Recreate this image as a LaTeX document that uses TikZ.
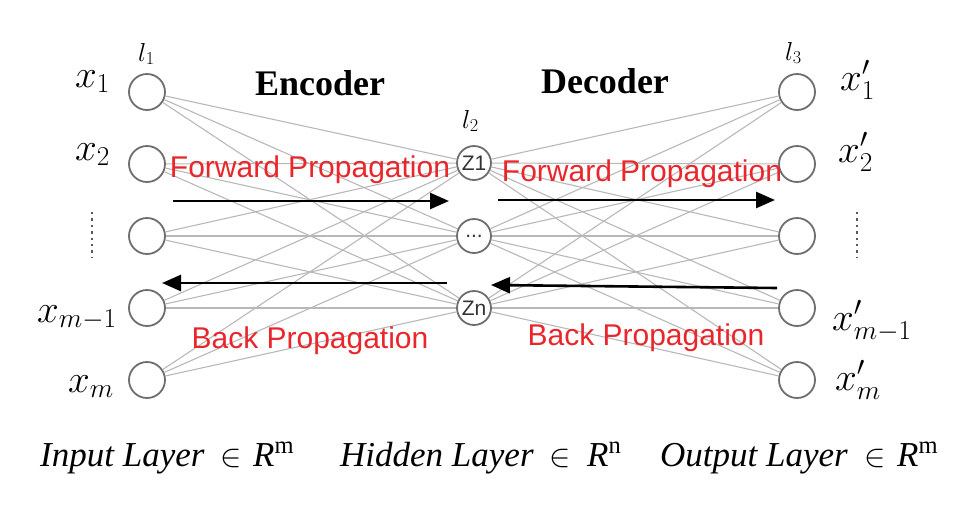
\documentclass[tikz,border=0pt]{standalone}
\usepackage{fix-cm}
\usepackage{fontspec}
\newfontfamily\serifTNR{Liberation Serif}
\newfontfamily\sansArial{Liberation Sans}
\usetikzlibrary{arrows.meta}
\definecolor{redtxt}{HTML}{E8262B}
\definecolor{nodegray}{HTML}{6E6E6E}
\definecolor{linkgray}{HTML}{B8B8B8}
\tikzset{
  neuron/.style={circle,draw=nodegray,line width=1.8pt,fill=white,minimum size=36pt,inner sep=0pt},
  hneuron/.style={neuron,minimum size=34pt,font=\sansArial\fontsize{21}{22}\selectfont,text=black!80},
  link/.style={draw=linkgray,line width=1.1pt},
  mathlbl/.style={anchor=base west,inner sep=0pt,font=\fontsize{39}{41}\selectfont},
  layerlbl/.style={anchor=base west,inner sep=0pt,font=\fontsize{26}{28}\selectfont},
  titlelbl/.style={anchor=base,inner sep=0pt,font=\serifTNR\bfseries\fontsize{36}{38}\selectfont},
  redlbl/.style={anchor=base,inner sep=0pt,text=redtxt,font=\sansArial\fontsize{30}{32}\selectfont},
  proparrow/.style={line width=2.6pt,-{Triangle[length=19pt,width=16pt]}},
  botlbl/.style={anchor=base west,inner sep=0pt,font=\serifTNR\itshape\fontsize{35}{37}\selectfont},
  botin/.style={anchor=base west,inner sep=0pt,font=\fontsize{32}{34}\selectfont},
  vdots/.style={line width=2.4pt,dash pattern=on 2.4pt off 4pt,draw=black!65}
}
\begin{document}
\begin{tikzpicture}[x=1pt,y=-1pt]
\useasboundingbox (0,0) rectangle (967,504);
% neurons
\foreach \i/\y in {1/92,2/164,3/236,4/308,5/380}{
  \node[neuron] (i\i) at (147,\y) {};
  \node[neuron] (o\i) at (797,\y) {};
}
\node[hneuron] (h1) at (474,163) {Z1};
\node[hneuron] (h2) at (474,236) {...};
\node[hneuron] (h3) at (474,308) {Zn};
% links
\foreach \i in {1,...,5}{
  \foreach \j in {1,2,3}{
    \draw[link] (i\i) -- (h\j);
    \draw[link] (h\j) -- (o\i);
  }
}
% labels
\node[mathlbl] (lx1) at (75,87) {$x_1$};
\node[mathlbl] (lx2) at (75,160) {$x_2$};
\node[mathlbl] (lxm1) at (37,322) {$x_{m-1}$};
\node[mathlbl] (lxm) at (68,392) {$x_m$};
\node[mathlbl] (ly1) at (840,90) {$x'_1$};
\node[mathlbl] (ly2) at (838,162) {$x'_2$};
\node[mathlbl] (lym1) at (832,330) {$x'_{m-1}$};
\node[mathlbl] (lym) at (835,390) {$x'_m$};
\coordinate (d1a) at (92,212); \coordinate (d1b) at (92,258);
\coordinate (d2a) at (857,212); \coordinate (d2b) at (857,258);
\draw[vdots] (d1a) -- (d1b);
\draw[vdots] (d2a) -- (d2b);
\node[layerlbl] (l1) at (138,61) {$l_1$};
\node[layerlbl] (l2) at (462,128) {$l_2$};
\node[layerlbl] (l3) at (785,60) {$l_3$};
\node[titlelbl] (enc) at (320,95) {Encoder};
\node[titlelbl] (dec) at (605,93) {Decoder};
% propagation labels
\node[redlbl] (fwl) at (310,177) {Forward Propagation};
\node[redlbl] (fwr) at (642,181) {Forward Propagation};
\node[redlbl] (bkl) at (310,348) {Back Propagation};
\node[redlbl] (bkr) at (646,345) {Back Propagation};
% arrows
\coordinate (fa1) at (173,201); \coordinate (fb1) at (449,201);
\coordinate (fa2) at (498,200); \coordinate (fb2) at (775,200);
\coordinate (ba1) at (447,283); \coordinate (bb1) at (162,283);
\coordinate (ba2) at (777,288); \coordinate (bb2) at (491,285);
\draw[proparrow] (fa1) -- (fb1);
\draw[proparrow] (fa2) -- (fb2);
\draw[proparrow] (ba1) -- (bb1);
\draw[proparrow] (ba2) -- (bb2);
% bottom labels
\node[botlbl] (inw) at (40,466) {Input Layer};
\node[botin] (ine) at (220,466) {$\in$};
\node[botlbl] (inr) at (253,466) {R\textsuperscript{\upshape m}};
\node[botlbl] (hiw) at (340,466) {Hidden Layer};
\node[botin] (hie) at (549,466) {$\in$};
\node[botlbl] (hir) at (587,466) {R\textsuperscript{\upshape n}};
\node[botlbl] (ouw) at (660,466) {Output Layer};
\node[botin] (oue) at (864,466) {$\in$};
\node[botlbl] (our) at (897,466) {R\textsuperscript{\upshape m}};
\end{tikzpicture}
\end{document}
